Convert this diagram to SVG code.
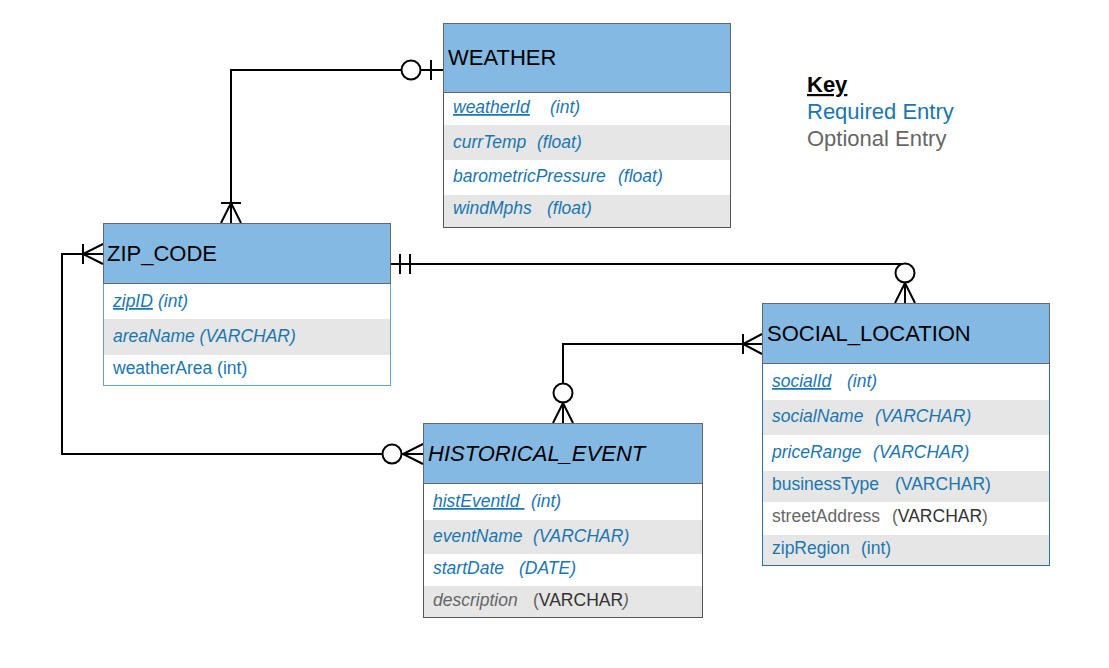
<svg xmlns="http://www.w3.org/2000/svg" width="1109" height="668" viewBox="0 0 1109 668">
<style>
.hdr{fill:#84b9e3;stroke:#666;stroke-width:1}
.bodyD{fill:#fff;stroke:#555;stroke-width:1}
.bodyB{fill:#fff;stroke:#5fa3cc;stroke-width:1}
.bodyS{fill:#fff;stroke:#2f6f9f;stroke-width:1}
.alt{fill:#e6e6e6}
.title{font-family:"Liberation Sans",Arial,sans-serif;font-size:22px;fill:#000}
.t{font-family:"Liberation Sans",Arial,sans-serif;font-size:17.5px;fill:#1a76b2}
.i{font-style:italic}
.u{text-decoration:underline}
.g{fill:#666}
.d{fill:#333}
.key{font-family:"Liberation Sans",Arial,sans-serif;font-size:22px}
.c{fill:none;stroke:#000;stroke-width:2}
.cc{fill:#fff;stroke:#000;stroke-width:2}
</style>
<rect width="1109" height="668" fill="#fff"/>

<g id="connectors">
  <!-- WEATHER - ZIP_CODE -->
  <polyline class="c" points="443,70 231,70 231,223"/>
  <line class="c" x1="431" y1="60" x2="431" y2="80"/>
  <circle class="cc" cx="411" cy="70" r="9.5"/>
  <line class="c" x1="221" y1="203" x2="241" y2="203"/>
  <polyline class="c" points="221,223 231,203 241,223"/>
  <!-- ZIP_CODE - SOCIAL_LOCATION -->
  <polyline class="c" points="390,264 905,264 905,303"/>
  <line class="c" x1="400" y1="254" x2="400" y2="274"/>
  <line class="c" x1="410" y1="254" x2="410" y2="274"/>
  <circle class="cc" cx="905" cy="273" r="9.5"/>
  <polyline class="c" points="895,303 905,283 915,303"/>
  <!-- SOCIAL_LOCATION - HISTORICAL_EVENT -->
  <polyline class="c" points="762,344 563,344 563,423"/>
  <line class="c" x1="743" y1="334" x2="743" y2="354"/>
  <polyline class="c" points="762,334 743,344 762,354"/>
  <circle class="cc" cx="563" cy="393" r="9.5"/>
  <polyline class="c" points="553,423 563,403 573,423"/>
  <!-- HISTORICAL_EVENT - ZIP_CODE -->
  <polyline class="c" points="423,454 62,454 62,254 103,254"/>
  <line class="c" x1="83" y1="244" x2="83" y2="264"/>
  <polyline class="c" points="103,244 83,254 103,264"/>
  <circle class="cc" cx="392" cy="454" r="9.5"/>
  <polyline class="c" points="423,444 403,454 423,464"/>
</g>

<g id="weather">
  <rect class="bodyD" x="443.5" y="23.5" width="287" height="204"/>
  <rect class="alt" x="444" y="125" width="286" height="35"/>
  <rect class="alt" x="444" y="195" width="286" height="32"/>
  <rect class="hdr" x="443.5" y="23.5" width="287" height="69"/>
  <text class="title" x="448" y="65">WEATHER</text>
  <text class="t i u" x="453" y="113">weatherId</text>
  <text class="t i" x="550" y="113">(int)</text>
  <text class="t i" x="453" y="148">currTemp</text>
  <text class="t i" x="537" y="148">(float)</text>
  <text class="t i" x="453" y="182">barometricPressure</text>
  <text class="t i" x="618" y="182">(float)</text>
  <text class="t i" x="453" y="214">windMphs</text>
  <text class="t i" x="547" y="214">(float)</text>
</g>

<g id="zip_code">
  <rect class="bodyB" x="103.5" y="223.5" width="287" height="162"/>
  <rect class="alt" x="104" y="319" width="286" height="36"/>
  <rect class="hdr" x="103.5" y="223.5" width="287" height="60"/>
  <text class="title" x="107" y="261">ZIP_CODE</text>
  <text class="t i u" x="113" y="307">zipID</text>
  <text class="t i" x="158" y="307">(int)</text>
  <text class="t i" x="113" y="342">areaName (VARCHAR)</text>
  <text class="t" x="113" y="374">weatherArea (int)</text>
</g>

<g id="social_location">
  <rect class="bodyS" x="762.5" y="303.5" width="287" height="262"/>
  <rect class="alt" x="763" y="400" width="286" height="35"/>
  <rect class="alt" x="763" y="471" width="286" height="31"/>
  <rect class="alt" x="763" y="535" width="286" height="30"/>
  <rect class="hdr" x="762.5" y="303.5" width="287" height="60"/>
  <text class="title" x="767" y="341">SOCIAL_LOCATION</text>
  <text class="t i u" x="772" y="387">socialId</text>
  <text class="t i" x="847" y="387">(int)</text>
  <text class="t i" x="772" y="422">socialName</text>
  <text class="t i" x="875" y="422">(VARCHAR)</text>
  <text class="t i" x="772" y="458">priceRange</text>
  <text class="t i" x="873" y="458">(VARCHAR)</text>
  <text class="t" x="772" y="490">businessType</text>
  <text class="t" x="895" y="490">(VARCHAR)</text>
  <text class="t g" x="772" y="522">streetAddress</text>
  <text class="t g" x="892" y="522">(<tspan class="d">VARCHAR</tspan>)</text>
  <text class="t" x="772" y="554">zipRegion</text>
  <text class="t" x="861" y="554">(int)</text>
</g>

<g id="historical_event">
  <rect class="bodyD" x="423.5" y="423.5" width="279" height="194"/>
  <rect class="alt" x="424" y="520" width="278" height="34"/>
  <rect class="alt" x="424" y="586" width="278" height="31"/>
  <rect class="hdr" x="423.5" y="423.5" width="279" height="60"/>
  <text class="title i" x="428" y="461">HISTORICAL_EVENT</text>
  <text class="t i u" x="433" y="507" xml:space="preserve">histEventId </text>
  <text class="t i" x="531" y="507">(int)</text>
  <text class="t i" x="433" y="542">eventName</text>
  <text class="t i" x="533" y="542">(VARCHAR)</text>
  <text class="t i" x="433" y="574">startDate</text>
  <text class="t i" x="519" y="574">(DATE)</text>
  <text class="t i g" x="433" y="606">description</text>
  <text class="t g" x="533" y="606">(<tspan class="d">VARCHAR</tspan><tspan font-style="italic">)</tspan></text>
</g>

<g id="key">
  <text class="key" x="807" y="92" font-weight="bold" text-decoration="underline" fill="#000">Key</text>
  <text class="key" x="807" y="119" fill="#1a76b2">Required Entry</text>
  <text class="key" x="807" y="146" fill="#666">Optional Entry</text>
</g>
</svg>
